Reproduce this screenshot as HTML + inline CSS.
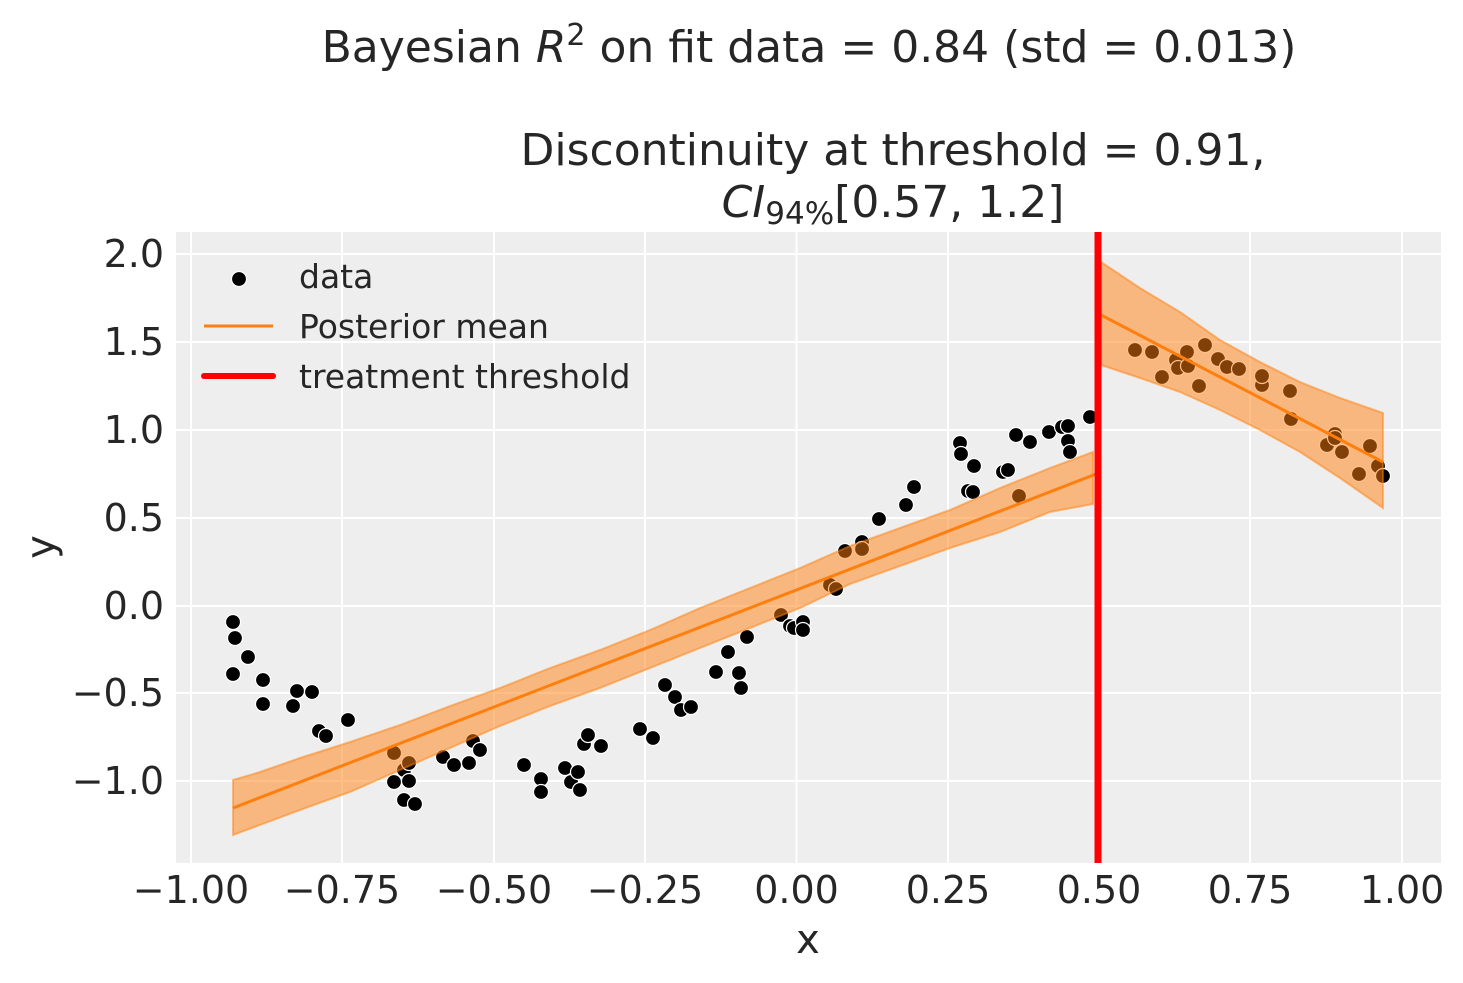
<!DOCTYPE html>
<html><head><meta charset="utf-8"><style>
html,body{margin:0;padding:0;background:#fff;}
svg{display:block;font-family:"DejaVu Sans","Liberation Sans",sans-serif;}
</style></head><body>
<svg width="1463" height="983" viewBox="0 0 1463 983" xmlns="http://www.w3.org/2000/svg">
<rect x="0" y="0" width="1463" height="983" fill="#fff"/>
<rect x="176" y="232" width="1265" height="631" fill="#eeeeee"/>
<g stroke="#fff" stroke-width="2">
<line x1="191" y1="232" x2="191" y2="863"/><line x1="342" y1="232" x2="342" y2="863"/>
<line x1="494" y1="232" x2="494" y2="863"/><line x1="645" y1="232" x2="645" y2="863"/>
<line x1="796.5" y1="232" x2="796.5" y2="863"/><line x1="948" y1="232" x2="948" y2="863"/>
<line x1="1099" y1="232" x2="1099" y2="863"/><line x1="1250" y1="232" x2="1250" y2="863"/>
<line x1="1402" y1="232" x2="1402" y2="863"/>
<line x1="176" y1="254" x2="1441" y2="254"/><line x1="176" y1="342" x2="1441" y2="342"/>
<line x1="176" y1="430" x2="1441" y2="430"/><line x1="176" y1="518" x2="1441" y2="518"/>
<line x1="176" y1="606" x2="1441" y2="606"/><line x1="176" y1="693" x2="1441" y2="693"/>
<line x1="176" y1="781" x2="1441" y2="781"/>
</g>
<g fill="#000" stroke="#fff" stroke-width="1.2">
<circle cx="233" cy="622" r="7.5"/><circle cx="235" cy="638" r="7.5"/><circle cx="233" cy="674" r="7.5"/><circle cx="248" cy="657" r="7.5"/>
<circle cx="263" cy="680" r="7.5"/><circle cx="263" cy="704" r="7.5"/><circle cx="293" cy="706" r="7.5"/><circle cx="297" cy="691" r="7.5"/>
<circle cx="312" cy="692" r="7.5"/><circle cx="319" cy="731" r="7.5"/><circle cx="326" cy="736" r="7.5"/><circle cx="348" cy="720" r="7.5"/>
<circle cx="394" cy="753" r="7.5"/><circle cx="394" cy="782" r="7.5"/><circle cx="404" cy="800" r="7.5"/><circle cx="404" cy="770" r="7.5"/>
<circle cx="409" cy="763" r="7.5"/><circle cx="409" cy="781" r="7.5"/><circle cx="415" cy="804" r="7.5"/><circle cx="443" cy="757" r="7.5"/>
<circle cx="454" cy="765" r="7.5"/><circle cx="469" cy="763" r="7.5"/><circle cx="473" cy="741" r="7.5"/><circle cx="480" cy="750" r="7.5"/>
<circle cx="524" cy="765" r="7.5"/><circle cx="541" cy="779" r="7.5"/><circle cx="541" cy="792" r="7.5"/><circle cx="565" cy="768" r="7.5"/>
<circle cx="571" cy="782" r="7.5"/><circle cx="578" cy="772" r="7.5"/><circle cx="580" cy="790" r="7.5"/><circle cx="584" cy="744" r="7.5"/>
<circle cx="588" cy="735" r="7.5"/><circle cx="601" cy="746" r="7.5"/><circle cx="640" cy="729" r="7.5"/><circle cx="653" cy="738" r="7.5"/>
<circle cx="665" cy="685" r="7.5"/><circle cx="675" cy="697" r="7.5"/><circle cx="681" cy="710" r="7.5"/><circle cx="691" cy="707" r="7.5"/>
<circle cx="716" cy="672" r="7.5"/><circle cx="728" cy="652" r="7.5"/><circle cx="739" cy="673" r="7.5"/><circle cx="741" cy="688" r="7.5"/>
<circle cx="747" cy="637" r="7.5"/><circle cx="781" cy="615" r="7.5"/><circle cx="790" cy="626" r="7.5"/><circle cx="794" cy="628" r="7.5"/>
<circle cx="803" cy="622" r="7.5"/><circle cx="803" cy="630" r="7.5"/><circle cx="830" cy="585" r="7.5"/><circle cx="836" cy="589" r="7.5"/>
<circle cx="845" cy="551" r="7.5"/><circle cx="862" cy="542" r="7.5"/><circle cx="862" cy="549" r="7.5"/><circle cx="879" cy="519" r="7.5"/>
<circle cx="906" cy="505" r="7.5"/><circle cx="914" cy="487" r="7.5"/><circle cx="960" cy="443" r="7.5"/><circle cx="961" cy="454" r="7.5"/>
<circle cx="968" cy="491" r="7.5"/><circle cx="973" cy="492" r="7.5"/><circle cx="974" cy="466" r="7.5"/><circle cx="1003" cy="472" r="7.5"/>
<circle cx="1008" cy="470" r="7.5"/><circle cx="1016" cy="435" r="7.5"/><circle cx="1019" cy="496" r="7.5"/><circle cx="1030" cy="442" r="7.5"/>
<circle cx="1049" cy="432" r="7.5"/><circle cx="1062" cy="427" r="7.5"/><circle cx="1068" cy="426" r="7.5"/><circle cx="1068" cy="441" r="7.5"/>
<circle cx="1070" cy="452" r="7.5"/><circle cx="1090" cy="417" r="7.5"/>
<circle cx="1135" cy="350" r="7.5"/><circle cx="1152" cy="352" r="7.5"/><circle cx="1162" cy="377" r="7.5"/><circle cx="1176" cy="360" r="7.5"/>
<circle cx="1178" cy="368" r="7.5"/><circle cx="1188" cy="366" r="7.5"/><circle cx="1187" cy="352" r="7.5"/><circle cx="1199" cy="386" r="7.5"/>
<circle cx="1205" cy="345" r="7.5"/><circle cx="1218" cy="359" r="7.5"/><circle cx="1227" cy="367" r="7.5"/><circle cx="1239" cy="369" r="7.5"/>
<circle cx="1262" cy="385" r="7.5"/><circle cx="1262" cy="376" r="7.5"/><circle cx="1290" cy="391" r="7.5"/><circle cx="1291" cy="419" r="7.5"/>
<circle cx="1327" cy="445" r="7.5"/><circle cx="1335" cy="434" r="7.5"/><circle cx="1335" cy="438" r="7.5"/><circle cx="1342" cy="452" r="7.5"/>
<circle cx="1359" cy="474" r="7.5"/><circle cx="1370" cy="446" r="7.5"/><circle cx="1378" cy="466" r="7.5"/><circle cx="1383" cy="476" r="7.5"/>
</g>
<g fill="#ff7f0e" fill-opacity="0.5" stroke="#ff7f0e" stroke-opacity="0.5" stroke-width="2">
<polygon points="233,780 260,772 300,758 350,742 400,725 450,706 500,688 550,668 600,650 650,630 700,608 750,588 800,568 850,546 900,528 950,510 1000,488 1050,468 1093,452 1093,504 1050,512 1000,532 950,548 900,566 850,584 800,608 750,628 700,648 650,668 600,688 550,706 500,726 450,748 400,770 350,792 300,810 260,825 233,835"/>
<polygon points="1101,262 1140,288 1180,312 1220,340 1260,362 1300,382 1340,398 1383,413 1383,508 1340,478 1300,452 1260,430 1220,410 1180,392 1140,378 1101,365"/>
</g>
<g stroke="#ff7f0e" stroke-width="3" fill="none">
<line x1="233" y1="808" x2="1096" y2="474"/>
<line x1="1101" y1="315" x2="1383" y2="462"/>
</g>
<line x1="1098" y1="232" x2="1098" y2="863" stroke="#ff0000" stroke-width="7"/>
<circle cx="239" cy="279" r="7.5" fill="#000" stroke="#fff" stroke-width="1.2"/>
<line x1="204" y1="326" x2="273" y2="326" stroke="#ff7f0e" stroke-width="3"/>
<line x1="204" y1="376" x2="273" y2="376" stroke="#ff0000" stroke-width="6" stroke-linecap="round"/>
<g fill="#262626" font-size="33">
<text x="299" y="288">data</text>
<text x="299" y="338">Posterior mean</text>
<text x="299" y="388">treatment threshold</text>
</g>
<g fill="#262626" font-size="38" text-anchor="middle">
<text x="191" y="903">−1.00</text><text x="342" y="903">−0.75</text><text x="494" y="903">−0.50</text>
<text x="645" y="903">−0.25</text><text x="796.5" y="903">0.00</text><text x="948" y="903">0.25</text>
<text x="1099" y="903">0.50</text><text x="1250" y="903">0.75</text><text x="1402" y="903">1.00</text>
</g>
<g fill="#262626" font-size="38" text-anchor="end">
<text x="164" y="267">2.0</text><text x="164" y="355">1.5</text><text x="164" y="443">1.0</text>
<text x="164" y="531">0.5</text><text x="164" y="619">0.0</text><text x="164" y="706">−0.5</text>
<text x="164" y="794">−1.0</text>
</g>
<text x="808" y="953" fill="#262626" font-size="40" text-anchor="middle">x</text>
<text transform="translate(54,547) rotate(-90)" fill="#262626" font-size="40" text-anchor="middle">y</text>
<g fill="#262626" font-size="44" text-anchor="middle">
<text x="809" y="62">Bayesian <tspan font-style="italic">R</tspan><tspan font-size="30" dy="-17">2</tspan><tspan dy="17"> on fit data = 0.84 (std = 0.013)</tspan></text>
<text x="893" y="165">Discontinuity at threshold = 0.91,</text>
<text x="893" y="217"><tspan font-style="italic">CI</tspan><tspan font-size="31" dy="7">94%</tspan><tspan dy="-7">[0.57, 1.2]</tspan></text>
</g>
</svg>
</body></html>
